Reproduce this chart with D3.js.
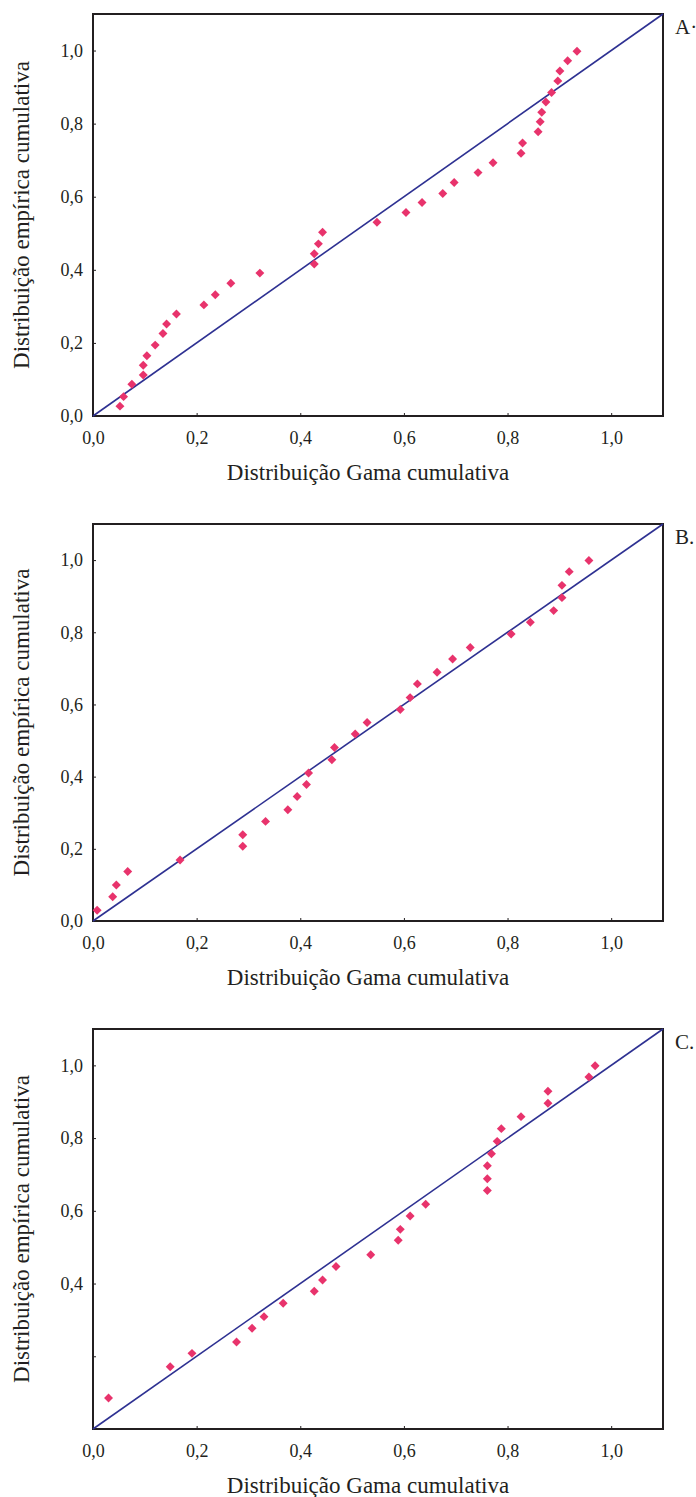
<!DOCTYPE html>
<html>
<head>
<meta charset="utf-8">
<script src="https://cdn.jsdelivr.net/npm/d3@7"></script>
<style>
  body { margin: 0; background: #fff; }
  svg text { font-family: "Liberation Serif", Tinos, "Times New Roman", Times, "DejaVu Serif", serif !important; fill: #231f20; }
</style>
</head>
<body>
<script>
// tick values and labels (comma decimals, as in the source)
const xTickValues = [0, 0.2, 0.4, 0.6, 0.8, 1.0];
const xTickLabels = ["0,0", "0,2", "0,4", "0,6", "0,8", "1,0"];
const yTickValues = [0, 0.2, 0.4, 0.6, 0.8, 1.0];
const yTickLabels = ["0,0", "0,2", "0,4", "0,6", "0,8", "1,0"];
const yTickLabelsC = ["", "", "0,4", "0,6", "0,8", "1,0"];

// panel A: gamma cdf (x) vs empirical cdf (y)
const aX = [0.052, 0.059, 0.075, 0.097, 0.097, 0.104, 0.120, 0.135, 0.142, 0.161,
  0.214, 0.236, 0.266, 0.322, 0.427, 0.427, 0.435, 0.443, 0.548, 0.604,
  0.635, 0.675, 0.697, 0.743, 0.772, 0.826, 0.829, 0.859, 0.863, 0.866,
  0.874, 0.885, 0.897, 0.901, 0.916, 0.934];
const aY = [0.027, 0.053, 0.087, 0.112, 0.139, 0.165, 0.194, 0.226, 0.252, 0.279,
  0.304, 0.332, 0.363, 0.391, 0.416, 0.444, 0.471, 0.503, 0.530, 0.557,
  0.584, 0.609, 0.639, 0.666, 0.693, 0.719, 0.747, 0.778, 0.805, 0.831,
  0.859, 0.885, 0.917, 0.944, 0.972, 0.998];

// panel B
const bX = [0.008, 0.038, 0.045, 0.067, 0.168, 0.289, 0.289, 0.333, 0.376, 0.394,
  0.412, 0.416, 0.461, 0.466, 0.506, 0.529, 0.593, 0.612, 0.626, 0.664,
  0.694, 0.728, 0.807, 0.844, 0.889, 0.905, 0.905, 0.919, 0.957];
const bY = [0.030, 0.067, 0.100, 0.137, 0.169, 0.207, 0.239, 0.276, 0.308, 0.345,
  0.378, 0.410, 0.447, 0.481, 0.518, 0.550, 0.586, 0.619, 0.657, 0.689,
  0.726, 0.758, 0.795, 0.828, 0.860, 0.896, 0.930, 0.968, 0.999];

// panel C
const cX = [0.030, 0.149, 0.191, 0.277, 0.307, 0.330, 0.367, 0.427, 0.443, 0.469,
  0.536, 0.589, 0.593, 0.612, 0.642, 0.761, 0.761, 0.761, 0.769, 0.780,
  0.788, 0.826, 0.878, 0.878, 0.957, 0.969];
const cY = [0.085, 0.171, 0.208, 0.239, 0.277, 0.309, 0.346, 0.379, 0.410, 0.447,
  0.479, 0.519, 0.549, 0.586, 0.618, 0.656, 0.688, 0.724, 0.757, 0.791,
  0.826, 0.859, 0.896, 0.929, 0.968, 0.999];

const xTitle = "Distribuição Gama cumulativa";
const yTitle = "Distribuição empírica cumulativa";

const panels = [
  { label: "A·", xs: aX, ys: aY, yLabels: yTickLabels, top: 14, bottom: 416 },
  { label: "B.", xs: bX, ys: bY, yLabels: yTickLabels, top: 524, bottom: 921 },
  { label: "C.", xs: cX, ys: cY, yLabels: yTickLabelsC, top: 1029, bottom: 1429 }
];

const W = 696, H = 1497;
const left = 93, right = 663;
const ink = "#231f20";
const serif = "'Liberation Serif', Tinos, 'Times New Roman', Times, 'DejaVu Serif', serif";

const svg = d3.select("body").append("svg")
  .attr("width", W)
  .attr("height", H)
  .attr("font-family", serif);

// both axes run 0 → 1.1
const x = d3.scaleLinear().domain([0, 1.1]).range([left, right]);
const diamond = d3.symbol(d3.symbolSquare, 40);

panels.forEach(p => {
  const y = d3.scaleLinear().domain([0, 1.1]).range([p.bottom, p.top]);
  const g = svg.append("g");

  // x axis (small inward ticks)
  g.append("g")
    .attr("transform", `translate(0,${p.bottom})`)
    .attr("font-family", serif)
    .attr("font-size", 18)
    .style("color", ink)
    .call(d3.axisBottom(x)
      .tickValues(xTickValues)
      .tickFormat((d, i) => xTickLabels[i])
      .tickSizeInner(-3)
      .tickSizeOuter(0)
      .tickPadding(15))
    .call(a => a.attr("font-family", serif).attr("font-size", 18))
    .call(a => a.select(".domain").remove());

  // y axis
  g.append("g")
    .attr("transform", `translate(${left},0)`)
    .style("color", ink)
    .call(d3.axisLeft(y)
      .tickValues(yTickValues)
      .tickFormat((d, i) => p.yLabels[i])
      .tickSizeInner(-3)
      .tickSizeOuter(0)
      .tickPadding(10))
    .call(a => a.attr("font-family", serif).attr("font-size", 18))
    .call(a => a.select(".domain").remove());

  // frame
  g.append("rect")
    .attr("x", left)
    .attr("y", p.top)
    .attr("width", right - left)
    .attr("height", p.bottom - p.top)
    .attr("fill", "none")
    .attr("stroke", ink)
    .attr("stroke-width", 2);

  // reference diagonal
  g.append("line")
    .attr("x1", x(0)).attr("y1", y(0))
    .attr("x2", x(1.1)).attr("y2", y(1.1))
    .attr("stroke", "#2e3192")
    .attr("stroke-width", 1.6);

  // points
  g.selectAll(".pt")
    .data(p.xs.map((v, i) => [v, p.ys[i]]))
    .join("path")
    .attr("class", "pt")
    .attr("d", diamond)
    .attr("transform", d => `translate(${x(d[0])},${y(d[1])}) rotate(45)`)
    .attr("fill", "#e8336c");

  // titles
  g.append("text")
    .attr("x", (left + right) / 2 - 10)
    .attr("y", p.bottom + 64)
    .attr("text-anchor", "middle")
    .attr("font-size", 23)
    .text(xTitle);

  g.append("text")
    .attr("transform", `translate(29,${(p.top + p.bottom) / 2}) rotate(-90)`)
    .attr("text-anchor", "middle")
    .attr("font-size", 23)
    .text(yTitle);

  // panel letter
  g.append("text")
    .attr("x", 675)
    .attr("y", p.top + 20)
    .attr("font-size", 21)
    .text(p.label);
});
</script>
</body>
</html>
